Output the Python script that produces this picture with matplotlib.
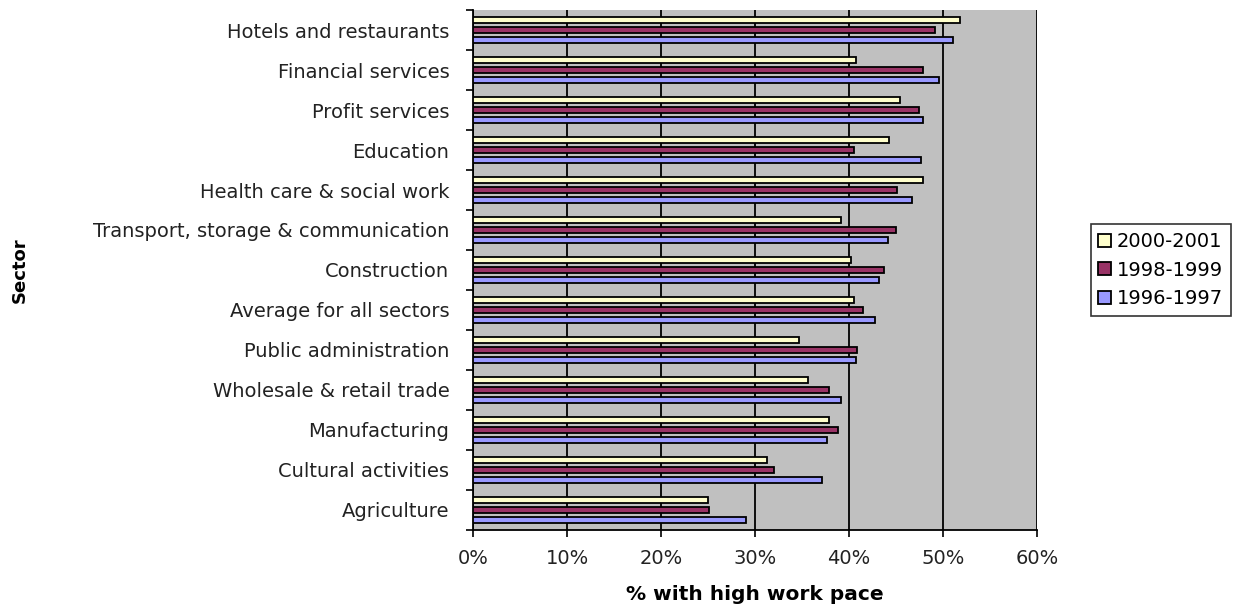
import matplotlib
matplotlib.use('Agg')
import matplotlib.pyplot as plt
import numpy as np
from matplotlib.ticker import FuncFormatter, MultipleLocator

sectors = ['Hotels and restaurants', 'Financial services', 'Profit services',
           'Education', 'Health care & social work',
           'Transport, storage & communication', 'Construction',
           'Average for all sectors', 'Public administration',
           'Wholesale & retail trade', 'Manufacturing', 'Cultural activities',
           'Agriculture']

# values in %
y2000 = [51.8, 40.7, 45.4, 44.3, 47.9, 39.2, 40.2, 40.5, 34.7, 35.6, 37.9, 31.3, 25.0]
y1998 = [49.2, 47.9, 47.5, 40.5, 45.1, 45.0, 43.7, 41.5, 40.9, 37.9, 38.8, 32.0, 25.1]
y1996 = [51.1, 49.6, 47.9, 47.7, 46.7, 44.1, 43.2, 42.8, 40.7, 39.2, 37.7, 37.1, 29.0]

series = [('2000-2001', y2000, '#FFFFCC'),
          ('1998-1999', y1998, '#993366'),
          ('1996-1997', y1996, '#9999FF')]

plt.rcParams['font.family'] = 'DejaVu Sans'
fs = 14

fig = plt.figure(figsize=(12.56, 6.07), dpi=100)
ax = fig.add_axes([0.3766, 0.1269, 0.449, 0.8566])
ax.set_facecolor('#C0C0C0')

pos = np.arange(len(sectors))
for i, (name, vals, col) in enumerate(series):
    ax.barh(pos - 0.25 + i * 0.25, vals, height=0.165, color=col,
            edgecolor='black', linewidth=1.3, label=name, zorder=3)

ax.set_xlim(0, 60)
ax.set_ylim(len(sectors) - 0.5, -0.5)
ax.xaxis.set_major_locator(MultipleLocator(10))
ax.xaxis.set_major_formatter(FuncFormatter(lambda v, p: '%d%%' % v))
ax.grid(axis='x', color='black', linewidth=1.3, zorder=1)

ax.set_yticks(pos)
ax.set_yticklabels(sectors)
ax.set_yticks(np.arange(len(sectors) + 1) - 0.5, minor=True)
ax.tick_params(axis='y', which='major', length=0, pad=17, labelsize=fs)
ax.tick_params(axis='y', which='minor', length=5, width=1.2, direction='out')
ax.tick_params(axis='x', length=5, width=1.2, direction='out', labelsize=fs, pad=9)
ax.tick_params(axis='both', labelcolor='#222222', color='black')

for s in ['top', 'right']:
    ax.spines[s].set_visible(False)
for s in ['left', 'bottom']:
    ax.spines[s].set_linewidth(1.3)

ax.set_xlabel('% with high work pace', fontsize=14.5, fontweight='bold', va='center')
ax.xaxis.set_label_coords(0.5, -0.125)
ax.set_ylabel('Sector', fontsize=13, fontweight='bold', va='center')
ax.yaxis.set_label_coords(-0.803, 0.5)

leg = ax.legend(loc='upper left', bbox_to_anchor=(1.095, 0.588), fontsize=fs,
                frameon=True, fancybox=False, edgecolor='black',
                handlelength=0.65, handleheight=0.65, handletextpad=0.3,
                borderpad=0.4, labelspacing=0.5, borderaxespad=0)
leg.get_frame().set_linewidth(1.2)

fig.savefig('out.png', dpi=100)
